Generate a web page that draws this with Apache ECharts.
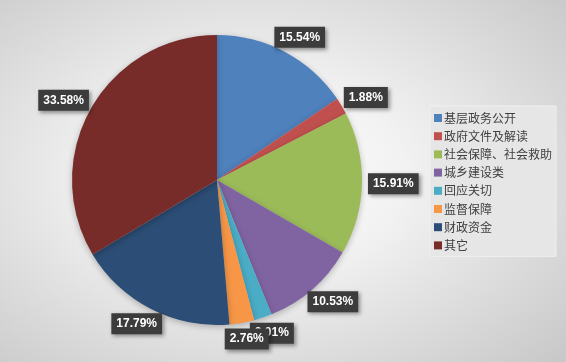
<!DOCTYPE html>
<html>
<head>
<meta charset="utf-8">
<script src="https://cdn.jsdelivr.net/npm/echarts@6/dist/echarts.min.js"></script>
<style>
html,body{margin:0;padding:0;}
#c{width:566px;height:362px;background:radial-gradient(ellipse 75% 75% at 45% 48%, #ffffff 0%, #f2f2f2 35%, #d8d8d8 75%, #c8c8c8 100%);}
</style>
</head>
<body>
<div id="c"></div>
<script>
const categories = ['基层政务公开','政府文件及解读','社会保障、社会救助','城乡建设类','回应关切','监督保障','财政资金','其它'];
const values = [15.54, 1.88, 15.91, 10.53, 2.01, 2.76, 17.79, 33.58];
const colors = ['#4F81BD','#C0504D','#9BBB59','#8064A2','#4BACC6','#F79646','#2C4D75','#772C2A'];

const CX = 217, CY = 180, R = 145, GAP = 6;

const data = categories.map((n,i)=>({name:n, value:values[i], itemStyle:{color:colors[i]}}));

const chart = echarts.init(document.getElementById('c'), null, {renderer:'canvas'});
chart.setOption({
  backgroundColor:'transparent',
  animation:false,
  legend:{
    orient:'vertical',
    left:430, top:106,
    width:126,
    padding:[6,4,5,4],
    backgroundColor:'#e6e6e6',
    borderColor:'#f0f0f0',
    borderWidth:1,
    itemWidth:8, itemHeight:8, itemGap:6.2,
    icon:'rect',
    textStyle:{fontSize:12, color:'#404040', fontFamily:'Noto Sans CJK SC', padding:[0,0,0,-3]},
    data:categories
  },
  series:[
    {
      type:'pie',
      center:[CX,CY],
      radius:R,
      startAngle:90,
      clockwise:true,
      avoidLabelOverlap:false,
      label:{
        show:true,
        position:'inside',
        formatter:p=>p.value.toFixed(2)+'%',
        color:'#ffffff',
        fontWeight:'bold',
        fontSize:12,
        fontFamily:'Liberation Sans',
        backgroundColor:'#3c3c3c',
        padding:[5,5,4,5],
        shadowBlur:4,
        shadowColor:'rgba(0,0,0,0.4)',
        shadowOffsetX:2,
        shadowOffsetY:2
      },
      labelLayout:function(p){
        const lr = p.labelRect;
        const mx = lr.x + lr.width/2, my = lr.y + lr.height/2;
        let dx = mx - CX, dy = my - CY;
        const len = Math.sqrt(dx*dx+dy*dy) || 1;
        dx /= len; dy /= len;
        const ax = CX + dx*R, ay = CY + dy*R;
        return {
          x: ax + dx*(lr.width/2 + GAP),
          y: ay + dy*(lr.height/2 + GAP),
          align:'center',
          verticalAlign:'middle',
          hideOverlap:false
        };
      },
      labelLine:{show:false},
      itemStyle:{shadowBlur:6, shadowColor:'rgba(0,0,0,0.25)', shadowOffsetY:2},
      emphasis:{disabled:true},
      data:data
    }
  ]
});
</script>
</body>
</html>
